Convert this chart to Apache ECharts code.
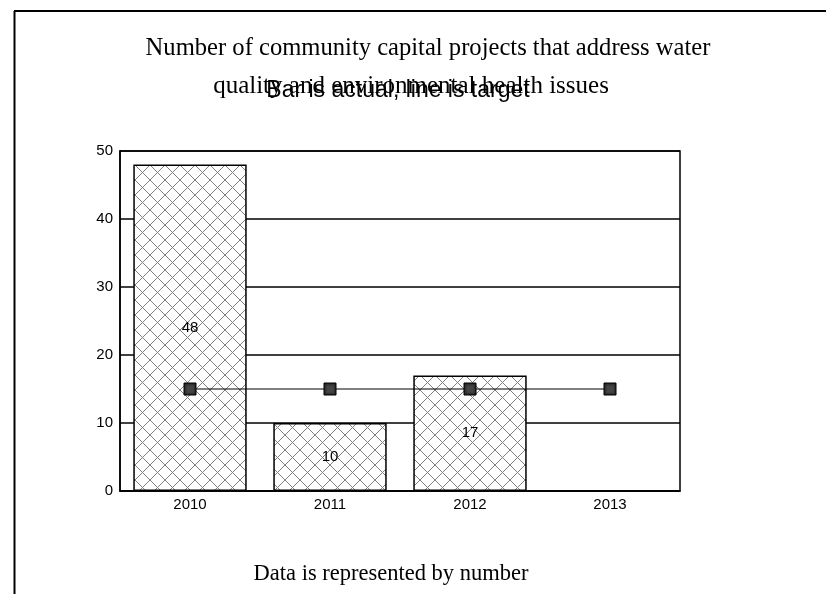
<!DOCTYPE html>
<html>
<head>
<meta charset="utf-8">
<script src="https://cdn.jsdelivr.net/npm/echarts@6/dist/echarts.min.js"></script>
<style>
html,body{margin:0;padding:0;background:#fff;}
#chart{width:826px;height:594px;}
</style>
</head>
<body>
<div id="chart"></div>
<script>
var categories = ['2010', '2011', '2012', '2013'];
var actualValues = [48, 10, 17, null];
var targetValues = [15, 15, 15, 15];
var titleLine1 = 'Number of community capital projects that address water';
var titleLine2 = 'quality and environmental health issues';
var subtitleText = 'Bar is actual, line is target';
var footerText = 'Data is represented by number';

function makeHatch(size, color, bg) {
  var c = document.createElement('canvas');
  c.width = size; c.height = size;
  var g = c.getContext('2d');
  g.fillStyle = bg; g.fillRect(0, 0, size, size);
  g.strokeStyle = color; g.lineWidth = 1;
  g.beginPath();
  g.moveTo(0, 0); g.lineTo(size, size);
  g.moveTo(size, 0); g.lineTo(0, size);
  g.stroke();
  return c;
}
var barPattern = makeHatch(15, '#808080', '#fff');
var markPattern = makeHatch(8, '#444', '#000');

var serifStyle = function (size) {
  return {fontFamily: 'Liberation Serif', fontSize: size, fontWeight: 'normal', color: '#000', lineHeight: size};
};
var SANS = 'Arial, "Liberation Sans", sans-serif';

var chart = echarts.init(document.getElementById('chart'), null, {renderer: 'canvas'});
chart.setOption({
  backgroundColor: '#fff',
  animation: false,
  title: [
    {text: titleLine1, left: 423, textAlign: 'center', top: 31, textStyle: serifStyle(24.6)},
    {text: titleLine2, left: 406, textAlign: 'center', top: 69, textStyle: serifStyle(25)},
    {text: footerText, left: 386, textAlign: 'center', top: 558, textStyle: serifStyle(22.5)}
  ],
  graphic: [
    {type: 'line', shape: {x1: 14.5, y1: 11, x2: 14.5, y2: 594}, style: {stroke: '#000', lineWidth: 2}},
    {type: 'line', shape: {x1: 14, y1: 11, x2: 826, y2: 11}, style: {stroke: '#000', lineWidth: 2}},
    {type: 'text', x: 398, y: 91, z: 100,
     style: {text: subtitleText, font: 'normal 23px ' + SANS, fill: '#000', textAlign: 'center', textVerticalAlign: 'middle'}}
  ],
  grid: {left: 120, right: 146, top: 151, bottom: 103, show: true, borderColor: '#000', borderWidth: 1.5},
  xAxis: {
    type: 'category', data: categories,
    axisLine: {lineStyle: {color: '#000', width: 1.5}},
    axisTick: {show: false},
    axisLabel: {fontFamily: SANS, fontSize: 15, color: '#000', margin: 6}
  },
  yAxis: {
    type: 'value', min: 0, max: 50, interval: 10,
    axisLine: {show: true, lineStyle: {color: '#000', width: 1.5}},
    axisTick: {show: false},
    axisLabel: {fontFamily: SANS, fontSize: 15, color: '#000', margin: 7},
    splitLine: {lineStyle: {color: '#000', width: 1.5}}
  },
  series: [
    {type: 'bar', data: actualValues, barWidth: '81%',
     itemStyle: {color: {image: barPattern, repeat: 'repeat'}, borderColor: '#000', borderWidth: 1.5},
     label: {show: true, position: 'inside', fontFamily: SANS, fontSize: 15, color: '#000'}},
    {type: 'line', data: targetValues, symbol: 'rect', symbolSize: 12, z: 5,
     lineStyle: {color: '#000', width: 1.2},
     itemStyle: {color: {image: markPattern, repeat: 'repeat'}, borderColor: '#000', borderWidth: 1}}
  ]
});
</script>
</body>
</html>
